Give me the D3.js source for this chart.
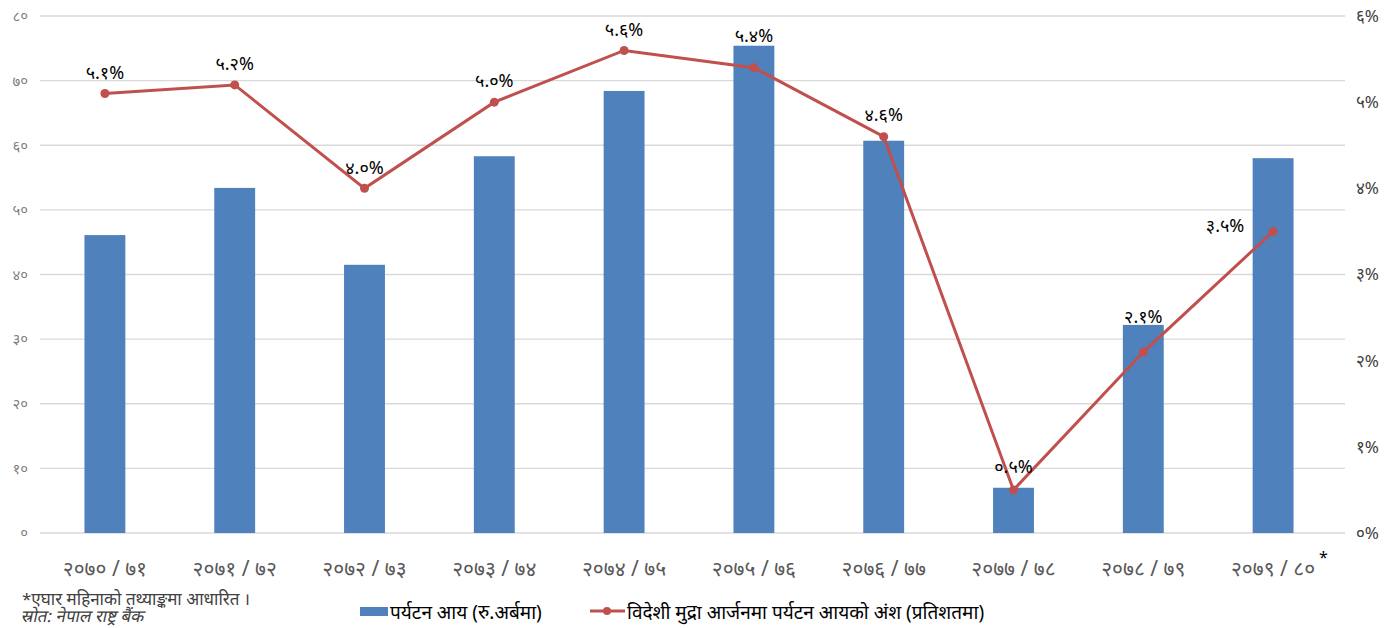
<!DOCTYPE html>
<html><head><meta charset="utf-8">
<script src="https://cdn.jsdelivr.net/npm/d3@7/dist/d3.min.js"></script>
<style>
body{margin:0;background:#fff;}
svg{font-family:"Noto Sans","DejaVu Sans",sans-serif;}
</style></head>
<body><svg id="c" width="1399" height="628"></svg>
<script>
const categories = ["२०७०/७१","२०७१/७२","२०७२/७३","२०७३/७४","२०७४/७५","२०७५/७६","२०७६/७७","२०७७/७८","२०७८/७९","२०७९/८०"];
const tourismIncome = [46.1, 53.4, 41.5, 58.3, 68.4, 75.4, 60.7, 7.0, 32.2, 58.0];
const shareOfForex = [5.1, 5.2, 4.0, 5.0, 5.6, 5.4, 4.6, 0.5, 2.1, 3.5];
const shareLabels = ["५.१%","५.२%","४.०%","५.०%","५.६%","५.४%","४.६%","०.५%","२.१%","३.५%"];
const leftTicks = [0,10,20,30,40,50,60,70,80];
const leftTickLabels = ["०","१०","२०","३०","४०","५०","६०","७०","८०"];
const rightTicks = [0,1,2,3,4,5,6];
const rightTickLabels = ["०%","१%","२%","३%","४%","५%","६%"];
const legendBar = "पर्यटन आय (रु.अर्बमा)";
const legendLine = "विदेशी मुद्रा आर्जनमा पर्यटन आयको अंश (प्रतिशतमा)";
const footnote1 = "*एघार महिनाको तथ्याङ्कमा आधारित ।";
const footnote2 = "स्रोत: नेपाल राष्ट्र बैंक";

const svg = d3.select("#c");
const L = 40, R = 1338, T = 16, B = 533;
const x = d3.scaleBand().domain(categories).range([L, R]).paddingInner(0.685).paddingOuter(0.3425);
const yL = d3.scaleLinear().domain([0,80]).range([B,T]);
const yR = d3.scaleLinear().domain([0,6]).range([B,T]);
const cx = i => x(categories[i]) + x.bandwidth()/2;

// gridlines
svg.append("g").selectAll("line").data(leftTicks).join("line")
  .attr("x1", L).attr("x2", 1345)
  .attr("y1", d=>yL(d)).attr("y2", d=>yL(d))
  .attr("stroke", "#d9d9d9").attr("stroke-width", 1.3);

// left axis labels
svg.append("g").selectAll("text").data(leftTicks).join("text")
  .attr("x", 28).attr("y", d=>yL(d)).attr("dy","0.35em")
  .attr("text-anchor","end").attr("font-size",15).attr("fill","#7f7f7f")
  .text((d,i)=>leftTickLabels[i]);

// right axis labels
svg.append("g").selectAll("text").data(rightTicks).join("text")
  .attr("x", 1356).attr("y", d=>yR(d)).attr("dy","0.35em")
  .attr("text-anchor","start").attr("font-size",17).attr("fill","#404040")
  .text((d,i)=>rightTickLabels[i]);

// bars
svg.append("g").selectAll("rect").data(tourismIncome).join("rect")
  .attr("x", (d,i)=>x(categories[i])).attr("width", x.bandwidth())
  .attr("y", d=>yL(d)).attr("height", d=>yL(0)-yL(d))
  .attr("fill", "#4f81bd");

// line
const line = d3.line().x((d,i)=>cx(i)).y(d=>yR(d));
svg.append("path").datum(shareOfForex).attr("d", line)
  .attr("fill","none").attr("stroke","#c0504d").attr("stroke-width",3);
svg.append("g").selectAll("circle").data(shareOfForex).join("circle")
  .attr("cx",(d,i)=>cx(i)).attr("cy",d=>yR(d))
  .attr("r",4.5).attr("fill","#c0504d");

// data labels
const labelDx = [0,0,0,0,0,0,0,0,0,-48];
const labelDy = [-21,-21,-21,-21,-21,-32,-22,-23,-35,-6];
svg.append("g").selectAll("text").data(shareOfForex).join("text")
  .attr("x",(d,i)=>cx(i)+labelDx[i])
  .attr("y",(d,i)=>yR(d)+labelDy[i]).attr("dy","0.35em")
  .attr("text-anchor","middle").attr("font-size",18).attr("fill","#000")
  .text((d,i)=>shareLabels[i]);

// x labels
svg.append("g").selectAll("text").data(categories).join("text")
  .attr("x", (d,i)=>cx(i)).attr("y", 569).attr("dy","0.35em")
  .attr("text-anchor","middle").attr("font-size",21).attr("fill","#595959")
  .text(d=>d.replace("/"," / "));
svg.append("text").attr("x", cx(9)+46).attr("y",563)
  .attr("font-size",16).attr("fill","#000").text("*");

// legend
svg.append("rect").attr("x",360).attr("y",607).attr("width",28).attr("height",9).attr("fill","#4f81bd");
svg.append("text").attr("x",390).attr("y",612).attr("dy","0.35em").attr("font-size",19).attr("fill","#000").text(legendBar);
svg.append("line").attr("x1",590).attr("x2",625).attr("y1",611).attr("y2",611).attr("stroke","#c0504d").attr("stroke-width",3);
svg.append("circle").attr("cx",607).attr("cy",611).attr("r",4).attr("fill","#c0504d");
svg.append("text").attr("x",627).attr("y",612).attr("dy","0.35em").attr("font-size",19).attr("fill","#000").text(legendLine);

// footnotes
svg.append("text").attr("x",22).attr("y",599).attr("dy","0.35em").attr("font-size",17).attr("fill","#404040").text(footnote1);
svg.append("text").attr("transform","translate(22,616) skewX(-12)").attr("dy","0.35em").attr("font-size",17).attr("fill","#404040").text(footnote2);
</script></body></html>
